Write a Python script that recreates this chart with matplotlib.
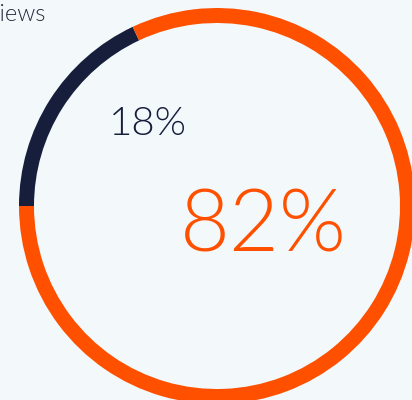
import matplotlib.pyplot as plt

# share of views
labels = ['18%', '82%']
shares = [18, 82]
colors = ['#161e3c', '#ff5000']
title = 'Views'

bg = '#f3f8fb'

fig = plt.figure(figsize=(4.12, 4.0), dpi=100, facecolor=bg)
ax = fig.add_axes([0, 0, 1, 1])
ax.set_facecolor(bg)

ax.pie(shares, colors=colors, startangle=180, counterclock=False,
       center=(217, 194), radius=198,
       wedgeprops=dict(width=15, linewidth=0))

ax.set_xlim(0, 412)
ax.set_ylim(0, 400)
ax.set_aspect('equal')
ax.axis('off')

font = dict(family=['Lato', 'DejaVu Sans'], fontweight=300)
ax.text(46, 379, title, ha='right', va='baseline', fontsize=17,
        color='#262b3e', **font)
ax.text(148, 265, labels[0], ha='center', va='baseline', fontsize=29,
        color=colors[0], **font)
ax.text(263, 148, labels[1], ha='center', va='baseline', fontsize=62,
        color=colors[1], **font)

fig.savefig('out.png', dpi=100, facecolor=bg)
